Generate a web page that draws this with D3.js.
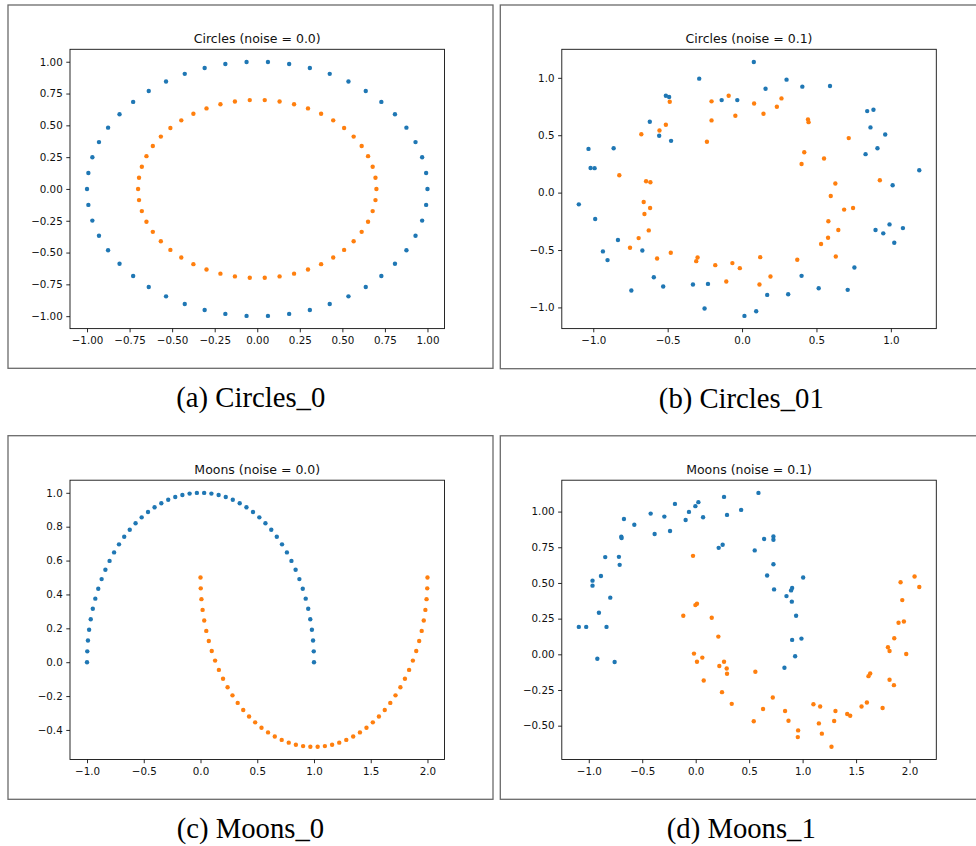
<!DOCTYPE html>
<html>
<head>
<meta charset="utf-8">
<script src="https://cdn.jsdelivr.net/npm/d3@7"></script>
<style>
  html, body { margin: 0; padding: 0; background: #ffffff; }
  svg { display: block; }
</style>
</head>
<body>
<svg id="fig" width="976" height="846"></svg>
<script>
// ---- Circles, noise = 0.0 ----
const circlesOuterX = [1, 0.9921, 0.9686, 0.9298, 0.8763, 0.8090, 0.7290, 0.6374, 0.5358, 0.4258, 0.3090, 0.1874, 0.0628,
  -0.0628, -0.1874, -0.3090, -0.4258, -0.5358, -0.6374, -0.7290, -0.8090, -0.8763, -0.9298, -0.9686, -0.9921,
  -1, -0.9921, -0.9686, -0.9298, -0.8763, -0.8090, -0.7290, -0.6374, -0.5358, -0.4258, -0.3090, -0.1874, -0.0628,
  0.0628, 0.1874, 0.3090, 0.4258, 0.5358, 0.6374, 0.7290, 0.8090, 0.8763, 0.9298, 0.9686, 0.9921];
const circlesOuterY = [0, 0.1253, 0.2487, 0.3681, 0.4818, 0.5878, 0.6845, 0.7705, 0.8443, 0.9048, 0.9511, 0.9823, 0.9980,
  0.9980, 0.9823, 0.9511, 0.9048, 0.8443, 0.7705, 0.6845, 0.5878, 0.4818, 0.3681, 0.2487, 0.1253,
  0, -0.1253, -0.2487, -0.3681, -0.4818, -0.5878, -0.6845, -0.7705, -0.8443, -0.9048, -0.9511, -0.9823, -0.9980,
  -0.9980, -0.9823, -0.9511, -0.9048, -0.8443, -0.7705, -0.6845, -0.5878, -0.4818, -0.3681, -0.2487, -0.1253];
const circlesInnerX = [0.7, 0.6945, 0.6780, 0.6509, 0.6134, 0.5663, 0.5103, 0.4462, 0.3751, 0.2981, 0.2163, 0.1312, 0.0440,
  -0.0440, -0.1312, -0.2163, -0.2981, -0.3751, -0.4462, -0.5103, -0.5663, -0.6134, -0.6509, -0.6780, -0.6945,
  -0.7, -0.6945, -0.6780, -0.6509, -0.6134, -0.5663, -0.5103, -0.4462, -0.3751, -0.2981, -0.2163, -0.1312, -0.0440,
  0.0440, 0.1312, 0.2163, 0.2981, 0.3751, 0.4462, 0.5103, 0.5663, 0.6134, 0.6509, 0.6780, 0.6945];
const circlesInnerY = [0, 0.0877, 0.1741, 0.2577, 0.3373, 0.4115, 0.4792, 0.5394, 0.5910, 0.6334, 0.6658, 0.6876, 0.6986,
  0.6986, 0.6876, 0.6658, 0.6334, 0.5910, 0.5394, 0.4792, 0.4115, 0.3373, 0.2577, 0.1741, 0.0877,
  0, -0.0877, -0.1741, -0.2577, -0.3373, -0.4115, -0.4792, -0.5394, -0.5910, -0.6334, -0.6658, -0.6876, -0.6986,
  -0.6986, -0.6876, -0.6658, -0.6334, -0.5910, -0.5394, -0.4792, -0.4115, -0.3373, -0.2577, -0.1741, -0.0877];

// ---- Circles, noise = 0.1 ----
const circlesNoisyOuter = [
  [-0.288, 0.993], [-0.512, 0.844], [-0.490, 0.833], [-0.620, 0.617], [-0.557, 0.495],
  [-0.477, 0.451], [-1.032, 0.381], [-0.863, 0.387], [-1.018, 0.215], [-0.991, 0.213],
  [-1.097, -0.102], [-0.987, -0.230], [-0.834, -0.413], [-0.935, -0.512], [-0.670, -0.504],
  [-0.904, -0.588], [-0.593, -0.737], [-0.744, -0.853], [-0.530, -0.818], [-0.330, -0.801],
  [-0.229, -0.795], [-0.252, -1.010], [-0.137, 0.806], [-0.032, 0.806], [0.079, 1.138],
  [0.299, 0.984], [0.158, 0.905], [0.405, 0.923], [0.591, 0.929], [0.841, 0.710],
  [0.883, 0.722], [0.863, 0.568], [0.962, 0.507], [0.830, 0.335], [0.910, 0.387],
  [1.191, 0.195], [1.012, 0.064], [0.897, -0.326], [0.991, -0.277], [0.949, -0.355],
  [1.081, -0.309], [1.023, -0.437], [0.755, -0.652], [0.400, -0.725], [0.515, -0.833],
  [0.710, -0.847], [0.169, -0.891], [0.310, -0.885], [0.016, -1.074], [0.095, -1.033]
];
const circlesNoisyInner = [
  [-0.486, 0.792], [-0.512, 0.591], [-0.555, 0.541], [-0.677, 0.509], [-0.205, 0.795],
  [-0.090, 0.844], [-0.205, 0.629], [-0.236, 0.443], [-0.045, 0.670], [-0.825, 0.151],
  [-0.645, 0.099], [-0.616, 0.090], [-0.661, -0.082], [-0.618, -0.134], [-0.656, -0.186],
  [-0.627, -0.329], [-0.695, -0.396], [-0.753, -0.480], [-0.571, -0.574], [-0.479, -0.524],
  [-0.299, -0.565], [-0.308, -0.597], [-0.180, -0.632], [-0.065, -0.614], [-0.106, -0.774],
  [-0.015, -0.658], [0.081, 0.777], [0.265, 0.821], [0.234, 0.748], [0.144, 0.687],
  [0.443, 0.638], [0.447, 0.614], [0.717, 0.475], [0.418, 0.352], [0.400, 0.250],
  [0.551, 0.297], [0.926, 0.108], [0.627, 0.079], [0.596, -0.029], [0.686, -0.148],
  [0.746, -0.134], [0.580, -0.250], [0.647, -0.326], [0.578, -0.393], [0.531, -0.448],
  [0.122, -0.562], [0.371, -0.585], [0.630, -0.556], [0.191, -0.731], [0.117, -0.801]
];

// ---- Moons, noise = 0.0 ----
const moonsUpperX = [1, 0.9979, 0.9918, 0.9816, 0.9673, 0.9491, 0.9269, 0.9010, 0.8713, 0.8381, 0.8014, 0.7615, 0.7183,
  0.6723, 0.6235, 0.5721, 0.5184, 0.4625, 0.4048, 0.3454, 0.2845, 0.2225, 0.1596, 0.0960, 0.0321,
  -0.0321, -0.0960, -0.1596, -0.2225, -0.2845, -0.3454, -0.4048, -0.4625, -0.5184, -0.5721, -0.6235, -0.6723,
  -0.7183, -0.7615, -0.8014, -0.8381, -0.8713, -0.9010, -0.9269, -0.9491, -0.9673, -0.9816, -0.9918, -0.9979, -1];
const moonsUpperY = [0, 0.0641, 0.1279, 0.1912, 0.2537, 0.3151, 0.3753, 0.4339, 0.4907, 0.5455, 0.5981, 0.6482, 0.6957,
  0.7403, 0.7818, 0.8202, 0.8551, 0.8866, 0.9144, 0.9385, 0.9587, 0.9749, 0.9872, 0.9954, 0.9995,
  0.9995, 0.9954, 0.9872, 0.9749, 0.9587, 0.9385, 0.9144, 0.8866, 0.8551, 0.8202, 0.7818, 0.7403,
  0.6957, 0.6482, 0.5981, 0.5455, 0.4907, 0.4339, 0.3753, 0.3151, 0.2537, 0.1912, 0.1279, 0.0641, 0];
const moonsLowerX = [0, 0.0021, 0.0082, 0.0184, 0.0327, 0.0509, 0.0731, 0.0990, 0.1287, 0.1619, 0.1986, 0.2385, 0.2817,
  0.3277, 0.3765, 0.4279, 0.4816, 0.5375, 0.5952, 0.6546, 0.7155, 0.7775, 0.8404, 0.9040, 0.9679,
  1.0321, 1.0960, 1.1596, 1.2225, 1.2845, 1.3454, 1.4048, 1.4625, 1.5184, 1.5721, 1.6235, 1.6723,
  1.7183, 1.7615, 1.8014, 1.8381, 1.8713, 1.9010, 1.9269, 1.9491, 1.9673, 1.9816, 1.9918, 1.9979, 2];
const moonsLowerY = [0.5, 0.4359, 0.3721, 0.3088, 0.2463, 0.1849, 0.1247, 0.0661, 0.0093, -0.0455, -0.0981, -0.1482, -0.1957,
  -0.2403, -0.2818, -0.3202, -0.3551, -0.3866, -0.4144, -0.4385, -0.4587, -0.4749, -0.4872, -0.4954, -0.4995,
  -0.4995, -0.4954, -0.4872, -0.4749, -0.4587, -0.4385, -0.4144, -0.3866, -0.3551, -0.3202, -0.2818, -0.2403,
  -0.1957, -0.1482, -0.0981, -0.0455, 0.0093, 0.0661, 0.1247, 0.1849, 0.2463, 0.3088, 0.3721, 0.4359, 0.5];

// ---- Moons, noise = 0.1 ----
const moonsNoisyUpper = [
  [-1.093, 0.192], [-1.024, 0.192], [-0.834, 0.192], [-0.905, 0.291], [-0.799, 0.397],
  [-0.965, 0.516], [-0.965, 0.481], [-0.886, 0.549], [-0.846, 0.681], [-0.718, 0.683],
  [-0.711, 0.627], [-0.696, 0.824], [-0.693, 0.815], [-0.671, 0.948], [-0.574, 0.908],
  [-0.920, -0.031], [-0.758, -0.054], [-0.421, 0.986], [-0.384, 0.843], [-0.293, 0.965],
  [-0.240, 0.864], [-0.194, 1.054], [-0.094, 0.941], [-0.063, 0.998], [-0.003, 1.038],
  [0.025, 1.066], [0.069, 0.960], [0.265, 1.103], [0.293, 0.977], [0.215, 0.746],
  [0.252, 0.768], [0.425, 1.012], [0.587, 1.131], [0.640, 0.808], [0.727, 0.826],
  [0.727, 0.803], [0.552, 0.728], [0.727, 0.631], [0.668, 0.552], [1.005, 0.538],
  [0.733, 0.455], [0.902, 0.465], [0.892, 0.448], [0.849, 0.408], [0.899, 0.369],
  [0.939, 0.270], [0.902, 0.101], [0.989, 0.110], [0.930, -0.014], [0.830, -0.094]
];
const moonsNoisyLower = [
  [-0.025, 0.690], [-0.003, 0.345], [0.012, 0.354], [-0.116, 0.270], [0.150, 0.256],
  [0.212, 0.124], [-0.016, 0.005], [0.012, -0.052], [0.062, -0.023], [0.221, -0.082],
  [0.265, -0.052], [0.290, -0.099], [0.293, -0.136], [0.075, -0.183], [0.246, -0.265],
  [0.337, -0.347], [0.558, -0.122], [0.721, -0.303], [0.630, -0.383], [0.543, -0.469],
  [0.836, -0.397], [0.868, -0.465], [0.958, -0.533], [0.955, -0.580], [1.101, -0.350],
  [1.164, -0.366], [1.152, -0.484], [1.180, -0.556], [1.270, -0.648], [1.307, -0.397],
  [1.295, -0.467], [1.417, -0.418], [1.445, -0.430], [1.551, -0.366], [1.601, -0.338],
  [1.748, -0.376], [1.616, -0.153], [1.632, -0.134], [1.813, -0.178], [1.854, -0.216],
  [1.798, 0.049], [1.813, 0.023], [1.969, 0.002], [1.857, 0.113], [1.897, 0.221],
  [1.947, 0.230], [1.932, 0.380], [1.916, 0.505], [2.047, 0.545], [2.091, 0.472]
];

// ---- tick values ----
const ticksA = [-1.00, -0.75, -0.50, -0.25, 0.00, 0.25, 0.50, 0.75, 1.00];
const ticksB = [-1.0, -0.5, 0.0, 0.5, 1.0];
const ticksMoonX = [-1.0, -0.5, 0.0, 0.5, 1.0, 1.5, 2.0];
const ticksCY = [-0.4, -0.2, 0.0, 0.2, 0.4, 0.6, 0.8, 1.0];
const ticksDY = [-0.50, -0.25, 0.00, 0.25, 0.50, 0.75, 1.00];

const titles = ["Circles (noise = 0.0)", "Circles (noise = 0.1)", "Moons (noise = 0.0)", "Moons (noise = 0.1)"];
const captions = ["(a) Circles_0", "(b) Circles_01", "(c) Moons_0", "(d) Moons_1"];

const zip = (xs, ys) => xs.map((x, i) => [x, ys[i]]);

const BLUE = "#1f77b4", ORANGE = "#ff7f0e";
const TICK_FONT = 10.3, TITLE_FONT = 12.5, CAPTION_FONT = 28.7;
const AX_W = 374.5, AX_H = 279.3;

const panels = [
  { title: titles[0], caption: captions[0], blue: zip(circlesOuterX, circlesOuterY), orange: zip(circlesInnerX, circlesInnerY),
    xTicks: ticksA, yTicks: ticksA, xFmt: ".2f", yFmt: ".2f",
    box: [8, 5, 485, 363.3], ax: [70, 49.3], cap: [250.8, 407.3] },
  { title: titles[1], caption: captions[1], blue: circlesNoisyOuter, orange: circlesNoisyInner,
    xTicks: ticksB, yTicks: ticksB, xFmt: ".1f", yFmt: ".1f",
    box: [500.3, 5, 480, 363.7], ax: [561.8, 49.3], cap: [741.3, 407.8] },
  { title: titles[2], caption: captions[2], blue: zip(moonsUpperX, moonsUpperY), orange: zip(moonsLowerX, moonsLowerY),
    xTicks: ticksMoonX, yTicks: ticksCY, xFmt: ".1f", yFmt: ".1f",
    box: [8, 435.7, 485, 363.6], ax: [70, 480.2], cap: [250.4, 837.8] },
  { title: titles[3], caption: captions[3], blue: moonsNoisyUpper, orange: moonsNoisyLower,
    xTicks: ticksMoonX, yTicks: ticksDY, xFmt: ".1f", yFmt: ".2f",
    box: [500.3, 435.8, 480, 363.5], ax: [561.8, 480.2], cap: [741.3, 838.2] }
];

const svg = d3.select("#fig");

// pad an extent by 5% on each side, like the default autoscale margins
function padded(values) {
  const [lo, hi] = d3.extent(values);
  const m = (hi - lo) * 0.05;
  return [lo - m, hi + m];
}

panels.forEach(p => {
  // figure frame
  svg.append("rect")
    .attr("x", p.box[0]).attr("y", p.box[1])
    .attr("width", p.box[2]).attr("height", p.box[3])
    .attr("fill", "none").attr("stroke", "#6a6a6a").attr("stroke-width", 1.3);

  const all = p.blue.concat(p.orange);
  const x = d3.scaleLinear().domain(padded(all.map(d => d[0]))).range([0, AX_W]);
  const y = d3.scaleLinear().domain(padded(all.map(d => d[1]))).range([AX_H, 0]);

  const g = svg.append("g").attr("transform", `translate(${p.ax[0]},${p.ax[1]})`);

  // points: first class, then second class on top
  g.append("g").selectAll("circle").data(p.blue).join("circle")
    .attr("cx", d => x(d[0])).attr("cy", d => y(d[1])).attr("r", 2.2).attr("fill", BLUE);
  g.append("g").selectAll("circle").data(p.orange).join("circle")
    .attr("cx", d => x(d[0])).attr("cy", d => y(d[1])).attr("r", 2.2).attr("fill", ORANGE);

  // axes
  const xAxis = d3.axisBottom(x).tickValues(p.xTicks).tickFormat(d3.format(p.xFmt))
    .tickSizeInner(3.7).tickSizeOuter(0).tickPadding(4.8);
  const yAxis = d3.axisLeft(y).tickValues(p.yTicks).tickFormat(d3.format(p.yFmt))
    .tickSizeInner(3.7).tickSizeOuter(0).tickPadding(3.6);

  const gx = g.append("g").attr("transform", `translate(0,${AX_H})`).call(xAxis);
  const gy = g.append("g").call(yAxis);
  [gx, gy].forEach(a => {
    a.select(".domain").remove();
    a.selectAll("line").attr("stroke", "#111").attr("stroke-width", 0.9);
    a.selectAll("text").attr("fill", "#111")
      .style("font-family", "'DejaVu Sans', sans-serif").style("font-size", TICK_FONT + "px");
  });

  // spines
  g.append("rect").attr("x", 0).attr("y", 0).attr("width", AX_W).attr("height", AX_H)
    .attr("fill", "none").attr("stroke", "#111").attr("stroke-width", 0.9);

  // title
  g.append("text").attr("x", AX_W / 2).attr("y", -6.3)
    .attr("text-anchor", "middle").attr("fill", "#111")
    .style("font-family", "'DejaVu Sans', sans-serif").style("font-size", TITLE_FONT + "px")
    .text(p.title);

  // caption below the frame
  svg.append("text").attr("x", p.cap[0]).attr("y", p.cap[1])
    .attr("text-anchor", "middle").attr("fill", "#000")
    .style("font-family", "'Liberation Serif', 'Times New Roman', serif").style("font-size", CAPTION_FONT + "px")
    .text(p.caption);
});
</script>
</body>
</html>
